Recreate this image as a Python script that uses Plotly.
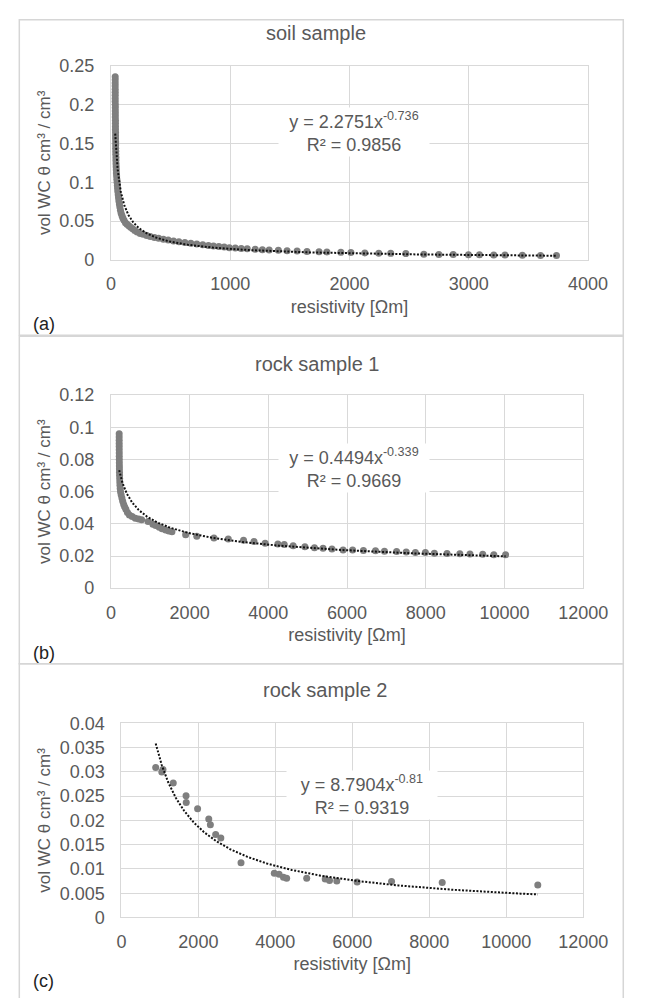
import numpy as np
import plotly.graph_objects as go

# ---------------- data ----------------
# (a) soil sample
soil_res = [36, 36, 36, 36, 36, 36, 36, 36, 36, 37, 37, 37, 37, 37, 38, 38, 38, 38, 39, 39,
            39, 40, 40, 40, 41, 41, 42, 42, 43, 44, 45, 46, 48, 50, 52, 54, 56, 58, 61, 64,
            67, 71, 75, 80, 86, 93, 100, 110, 122, 135, 150, 165, 182, 200, 220, 245, 270, 300, 330, 365,
            400, 440, 480, 525, 570, 620, 670, 720, 770, 818, 860, 905, 950, 993, 1043, 1093, 1143, 1210, 1270, 1327,
            1404, 1477, 1561, 1644, 1745, 1811, 1928, 2012, 2129, 2246, 2346, 2473, 2624, 2750, 2870, 2998, 3090, 3210, 3304, 3450,
            3602, 3736]
soil_wc = [0.236, 0.232, 0.228, 0.224, 0.220, 0.216, 0.212, 0.208, 0.204, 0.200, 0.196, 0.192, 0.188, 0.184, 0.180, 0.176, 0.172, 0.168, 0.164, 0.160,
           0.156, 0.152, 0.148, 0.144, 0.140, 0.136, 0.132, 0.128, 0.124, 0.120, 0.116, 0.112, 0.108, 0.104, 0.100, 0.096, 0.092, 0.088, 0.084, 0.080,
           0.076, 0.072, 0.068, 0.064, 0.060, 0.057, 0.054, 0.051, 0.048, 0.046, 0.044, 0.042, 0.040, 0.038, 0.036, 0.034, 0.033, 0.0315, 0.030, 0.029,
           0.0278, 0.0265, 0.0255, 0.0245, 0.0235, 0.0225, 0.0215, 0.0205, 0.0195, 0.0185, 0.0178, 0.0172, 0.0165, 0.0158, 0.0152, 0.0147, 0.0142, 0.0137, 0.0132, 0.0128,
           0.0123, 0.0118, 0.0113, 0.0109, 0.0105, 0.0102, 0.0097, 0.0094, 0.0090, 0.0087, 0.0084, 0.0081, 0.0072, 0.0070, 0.0068, 0.0066, 0.0065, 0.0063, 0.0062, 0.0060,
           0.0058, 0.0056]
soil_coef = [2.2751, -0.736]

# (b) rock sample 1
rock1_res = [210, 210, 210, 210, 211, 211, 212, 212, 213, 214, 215, 216, 218, 220, 223, 226, 230, 236, 245, 260,
             280, 300, 325, 350, 380, 420, 470, 540, 620, 703, 780, 945, 1067, 1137, 1228, 1300, 1390, 1470, 1551,
             1899, 2182, 2618, 2982, 3370, 3636, 3919, 4242, 4404, 4630, 4929, 5172, 5390, 5616, 5899, 6141, 6416, 6723, 6950,
             7259, 7503, 7736, 7990, 8218, 8541, 8865, 9123, 9447, 9729, 10028]
rock1_wc = [0.096, 0.094, 0.092, 0.090, 0.088, 0.086, 0.084, 0.082, 0.080, 0.078, 0.076, 0.074, 0.072, 0.070, 0.068, 0.066, 0.064, 0.062, 0.060, 0.058,
            0.056, 0.054, 0.052, 0.0505, 0.049, 0.047, 0.0455, 0.0445, 0.0435, 0.043, 0.0425, 0.0415, 0.0398, 0.039, 0.0378, 0.037, 0.0362, 0.0355, 0.035,
            0.0332, 0.0322, 0.0312, 0.0306, 0.0298, 0.029, 0.0279, 0.0274, 0.0271, 0.0264, 0.0257, 0.0252, 0.0248, 0.0244, 0.0238, 0.0237, 0.0234, 0.0232, 0.023,
            0.0228, 0.0225, 0.0222, 0.0222, 0.0217, 0.0216, 0.0214, 0.0212, 0.0211, 0.0207, 0.0207]
rock1_coef = [0.4494, -0.339]

# (c) rock sample 2
rock2_res = [891, 1050, 1080, 1347, 1680, 1685, 1980, 2270, 2312, 2450, 2584, 3108, 3973, 4097, 4211, 4294,
             4815, 5296, 5408, 5597, 6125, 7020, 8336, 10820]
rock2_wc = [0.0309, 0.0300, 0.0305, 0.0277, 0.0251, 0.0237, 0.0224, 0.0203, 0.0191, 0.0171, 0.0164, 0.0113, 0.0091, 0.0089, 0.0083, 0.0081,
            0.0081, 0.0079, 0.0076, 0.0075, 0.0073, 0.0074, 0.0072, 0.0067]
rock2_coef = [8.7904, -0.81]

titles = ["soil sample", "rock sample 1", "rock sample 2"]
equations = ["y = 2.2751x<sup>-0.736</sup><br>R² = 0.9856",
             "y = 0.4494x<sup>-0.339</sup><br>R² = 0.9669",
             "y = 8.7904x<sup>-0.81</sup><br>R² = 0.9319"]
panel_labels = ["(a)", "(b)", "(c)"]
x_title = "resistivity [Ωm]"
y_title = "vol WC θ cm³ / cm³"

# ---------------- figure ----------------
W, H = 654, 998
FONT = "Liberation Sans, Arial, sans-serif"
TXT = "#595959"
GRID = "#d9d9d9"
MARK = "#7f7f7f"


def px(x):
    return x / W


def py(y):
    return 1 - y / H


fig = go.Figure()

datasets = [(soil_res, soil_wc, soil_coef), (rock1_res, rock1_wc, rock1_coef), (rock2_res, rock2_wc, rock2_coef)]
for i, (xs, ys, coef) in enumerate(datasets):
    suffix = "" if i == 0 else str(i + 1)
    fig.add_trace(go.Scatter(x=xs, y=ys, mode="markers", xaxis="x" + suffix, yaxis="y" + suffix,
                             marker=dict(color=MARK, size=7), showlegend=False, hoverinfo="x+y"))
    tx = np.geomspace(min(xs), max(xs), 300)
    ty = coef[0] * tx ** coef[1]
    fig.add_trace(go.Scatter(x=tx, y=ty, mode="lines", xaxis="x" + suffix, yaxis="y" + suffix,
                             line=dict(color="#111111", width=2, dash="2px,1.6px"), showlegend=False,
                             hoverinfo="skip"))

# plot-area geometry (pixels)
plots = [  # x0, x1, ytop, ybottom
    (111, 611, 57, 255),
    (111, 606, 393, 590),
    (122, 606, 728, 926),
]
xranges = [(0, 4000, 1000), (0, 12000, 2000), (0, 12000, 2000)]
yranges = [(0, 0.25, 0.05), (0, 0.12, 0.02), (0, 0.04, 0.005)]

layout = dict(width=W, height=H, margin=dict(l=0, r=0, t=0, b=0),
              paper_bgcolor="white", plot_bgcolor="white", showlegend=False,
              font=dict(family=FONT, color=TXT, size=18))

for i in range(3):
    suffix = "" if i == 0 else str(i + 1)
    x0, x1, yt, yb = plots[i]
    xa = dict(domain=[px(x0), px(x1)], anchor="y" + suffix,
              range=[xranges[i][0], xranges[i][1]], dtick=xranges[i][2], tick0=0,
              showgrid=True, gridcolor=GRID, gridwidth=1, zeroline=False,
              showline=True, mirror=True, linecolor=GRID, linewidth=1,
              ticks="", ticklabelstandoff=8, tickformat="d",
              tickfont=dict(size=18, color=TXT, family=FONT),
              title=dict(text=x_title, font=dict(size=18, color=TXT, family=FONT), standoff=6))
    ya = dict(domain=[py(yb), py(yt)], anchor="x" + suffix,
              range=[yranges[i][0], yranges[i][1]], dtick=yranges[i][2], tick0=0,
              showgrid=True, gridcolor=GRID, gridwidth=1, zeroline=False,
              showline=True, mirror=True, linecolor=GRID, linewidth=1,
              ticks="", ticklabelstandoff=12,
              tickfont=dict(size=18, color=TXT, family=FONT),
              title=dict(text=y_title, font=dict(size=17, color=TXT, family=FONT), standoff=4))
    layout["xaxis" + suffix] = xa
    layout["yaxis" + suffix] = ya

fig.update_layout(**layout)

# panel frames
frames = [(15, 10, 648, 332), (15, 333, 648, 667), (15, 667, 648, 1010)]
for (l, t, r, b) in frames:
    fig.add_shape(type="rect", xref="paper", yref="paper", x0=px(l), x1=px(r), y0=py(b), y1=py(t),
                  line=dict(color="#d6d6d6", width=1.5), fillcolor="rgba(0,0,0,0)", layer="below")

# chart titles
title_pos = [(326, 23), (328, 361), (336, 694)]
for t, (x, y) in zip(titles, title_pos):
    fig.add_annotation(text=t, xref="paper", yref="paper", x=px(x), y=py(y), showarrow=False,
                       xanchor="center", yanchor="middle", font=dict(size=20, color=TXT, family=FONT))

# equation labels
eq_pos = [(366, 124), (366, 467), (374, 801)]
for t, (x, y) in zip(equations, eq_pos):
    fig.add_annotation(text=t, xref="paper", yref="paper", x=px(x), y=py(y), showarrow=False,
                       xanchor="center", yanchor="middle", width=150, height=48,
                       bgcolor="white", borderpad=0, align="center",
                       font=dict(size=18, color=TXT, family=FONT))

# panel letters
lab_pos = [(27, 320), (27, 656), (27, 991)]
for t, (x, y) in zip(panel_labels, lab_pos):
    fig.add_annotation(text=t, xref="paper", yref="paper", x=px(x), y=py(y), showarrow=False,
                       xanchor="left", yanchor="middle", font=dict(size=18, color="#222222", family=FONT))

fig.write_html("out.html",
               post_script="document.body.style.margin='0px';document.body.style.overflow='hidden';")
